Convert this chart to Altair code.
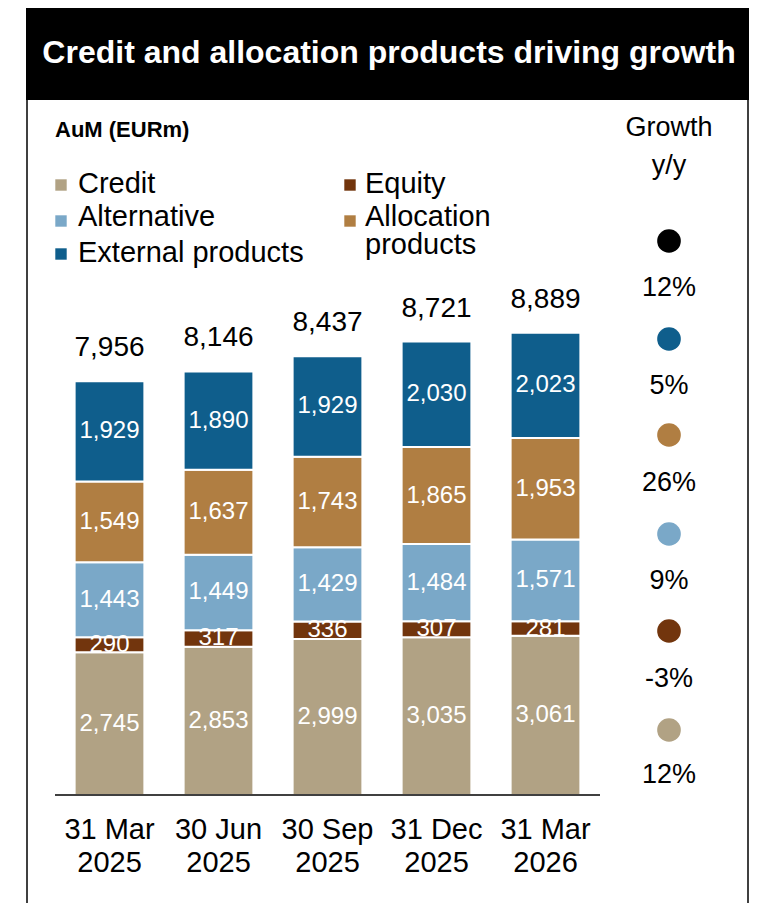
import altair as alt
import pandas as pd

# ---------------- data ----------------
dates = ["31 Mar 2025", "30 Jun 2025", "30 Sep 2025", "31 Dec 2025", "31 Mar 2026"]
date_labels = ["31 Mar\n2025", "30 Jun\n2025", "30 Sep\n2025", "31 Dec\n2025", "31 Mar\n2026"]
series = ["Credit", "Equity", "Alternative", "Allocation products", "External products"]
series_colors = ["#B1A284", "#72350D", "#7AA8C8", "#B07E42", "#0F5E8C"]
credit = [2745, 2853, 2999, 3035, 3061]
equity = [290, 317, 336, 307, 281]
alternative = [1443, 1449, 1429, 1484, 1571]
allocation = [1549, 1637, 1743, 1865, 1953]
external = [1929, 1890, 1929, 2030, 2023]
totals = [7956, 8146, 8437, 8721, 8889]

growth_names = ["Total", "External products", "Allocation products", "Alternative", "Equity", "Credit"]
growth_values = ["12%", "5%", "26%", "9%", "-3%", "12%"]
growth_colors = ["#000000", "#0F5E8C", "#B07E42", "#7AA8C8", "#72350D", "#B1A284"]

title_text = "Credit and allocation products driving growth"
unit_text = "AuM (EURm)"
growth_title = "Growth\ny/y"
legend_left = ["Credit", "Alternative", "External products"]
legend_right = ["Equity", "Allocation\nproducts"]

# ---------------- layout ----------------
W, H = 545, 520
PAD = {"left": 47, "top": 267, "right": 150, "bottom": 108}
OX, OY = 8 + PAD["left"], 8 + PAD["top"]  # page position of plot origin


def px(x):
    return x - OX


def py(y):
    return y - OY


FONT = "Liberation Sans"

values_by_series = [credit, equity, alternative, allocation, external]
rows = []
for si, (s, vals) in enumerate(zip(series, values_by_series)):
    for d, v in zip(dates, vals):
        rows.append({"date": d, "series": s, "value": v, "idx": si})
df = pd.DataFrame(rows)
tot_df = pd.DataFrame({"date": dates, "total": totals})
lab_df = pd.DataFrame({"date": dates, "label": date_labels})

xenc = alt.X("date:N", sort=dates, axis=None,
             scale=alt.Scale(paddingInner=0.36, paddingOuter=0.18))
yscale = alt.Scale(domain=[0, 10000])

bars = alt.Chart(df).mark_bar(stroke="white", strokeWidth=2).encode(
    x=xenc,
    y=alt.Y("value:Q", stack="zero", scale=yscale, axis=None),
    color=alt.Color("series:N", scale=alt.Scale(domain=series, range=series_colors), legend=None),
    order=alt.Order("idx:Q"),
)

seg_labels = alt.Chart(df).transform_stack(
    stack="value", groupby=["date"], as_=["v0", "v1"], sort=[alt.SortField("idx")]
).transform_calculate(mid="(datum.v0 + datum.v1) / 2").mark_text(
    color="white", font=FONT, fontSize=24, baseline="middle"
).encode(
    x=xenc,
    y=alt.Y("mid:Q", scale=yscale, axis=None),
    text=alt.Text("value:Q", format=","),
)

tot_labels = alt.Chart(tot_df).mark_text(
    color="black", font=FONT, fontSize=28, baseline="alphabetic", dy=-25
).encode(
    x=xenc,
    y=alt.Y("total:Q", scale=yscale, axis=None),
    text=alt.Text("total:Q", format=","),
)

x_labels = alt.Chart(lab_df).mark_text(
    color="black", font=FONT, fontSize=29, baseline="middle", lineBreak="\n", lineHeight=33
).encode(x=xenc, y=alt.value(py(830)), text="label:N")

one = pd.DataFrame({"k": [0]})

axis_line = alt.Chart(one).mark_rule(color="black", strokeWidth=1.5).encode(
    x=alt.value(0), x2=alt.value(W), y=alt.value(H)
)

title_bar = alt.Chart(one).mark_rect(color="black").encode(
    x=alt.value(px(26)), x2=alt.value(px(749)), y=alt.value(py(8)), y2=alt.value(py(100))
)
title = alt.Chart(pd.DataFrame({"t": [title_text]})).mark_text(
    color="white", font=FONT, fontWeight="bold", fontSize=32, baseline="middle", align="center"
).encode(x=alt.value(px(389)), y=alt.value(py(53)), text="t:N")

frame_l = alt.Chart(one).mark_rule(color="black", strokeWidth=1.5).encode(
    x=alt.value(px(27)), y=alt.value(py(8)), y2=alt.value(py(903))
)
frame_r = alt.Chart(one).mark_rule(color="black", strokeWidth=1.5).encode(
    x=alt.value(px(748)), y=alt.value(py(8)), y2=alt.value(py(903))
)

unit = alt.Chart(pd.DataFrame({"t": [unit_text]})).mark_text(
    color="black", font=FONT, fontWeight="bold", fontSize=22, align="left", baseline="middle"
).encode(x=alt.value(px(55)), y=alt.value(py(130)), text="t:N")

layers = [title_bar, title, frame_l, frame_r, unit]

# legend (left column)
left_y_text = [184, 217, 253]
left_y_sq = [185, 221, 254]
for name, yt, ys in zip(legend_left, left_y_text, left_y_sq):
    c = series_colors[series.index(name)]
    layers.append(alt.Chart(one).mark_square(color=c, opacity=1, size=130).encode(
        x=alt.value(px(61)), y=alt.value(py(ys))))
    layers.append(alt.Chart(pd.DataFrame({"t": [name]})).mark_text(
        color="black", font=FONT, fontSize=29, align="left", baseline="middle"
    ).encode(x=alt.value(px(78)), y=alt.value(py(yt)), text="t:N"))

# legend (right column)
right_names = ["Equity", "Allocation products"]
right_y_text = [184, 217]
right_y_sq = [185, 221]
for name, label, yt, ys in zip(right_names, legend_right, right_y_text, right_y_sq):
    c = series_colors[series.index(name)]
    layers.append(alt.Chart(one).mark_square(color=c, opacity=1, size=130).encode(
        x=alt.value(px(350)), y=alt.value(py(ys))))
    layers.append(alt.Chart(pd.DataFrame({"t": [label]})).mark_text(
        color="black", font=FONT, fontSize=29, align="left", baseline="top",
        lineBreak="\n", lineHeight=28, dy=-14
    ).encode(x=alt.value(px(365)), y=alt.value(py(yt)), text="t:N"))

# growth panel
layers.append(alt.Chart(pd.DataFrame({"t": [growth_title]})).mark_text(
    color="black", font=FONT, fontSize=27, align="center", baseline="middle",
    lineBreak="\n", lineHeight=38
).encode(x=alt.value(px(669)), y=alt.value(py(128)), text="t:N"))

circle_y = [241, 339, 435, 534, 631, 730]
pct_y = [288, 386, 483, 581, 679, 775]
for c, v, cy, ty in zip(growth_colors, growth_values, circle_y, pct_y):
    layers.append(alt.Chart(one).mark_circle(color=c, opacity=1, size=560).encode(
        x=alt.value(px(669)), y=alt.value(py(cy))))
    layers.append(alt.Chart(pd.DataFrame({"t": [v]})).mark_text(
        color="black", font=FONT, fontSize=27, align="center", baseline="middle"
    ).encode(x=alt.value(px(669)), y=alt.value(py(ty)), text="t:N"))

chart = alt.layer(
    bars, seg_labels, tot_labels, x_labels, axis_line, *layers
).properties(
    width=W, height=H, padding=PAD,
    autosize=alt.AutoSizeParams(type="none"),
    background="white",
).configure_view(stroke=None)

chart.save("out.html", embed_options={"renderer": "svg", "actions": False})
